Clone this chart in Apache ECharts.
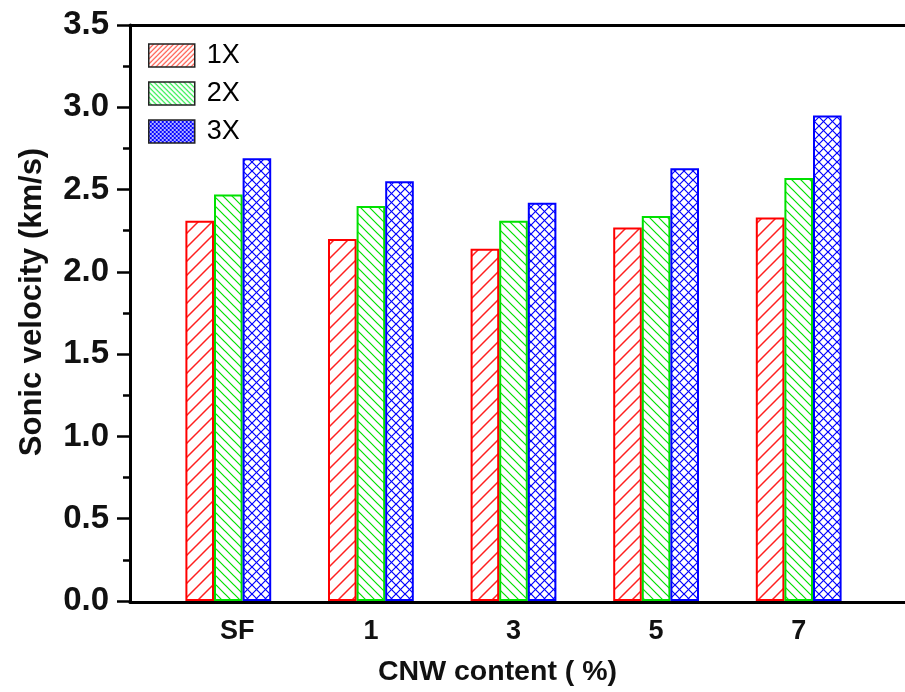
<!DOCTYPE html>
<html>
<head>
<meta charset="utf-8">
<script src="https://cdn.jsdelivr.net/npm/echarts@6/dist/echarts.min.js"></script>
<style>
  html, body { margin: 0; padding: 0; background: #fff; }
  #chart { width: 905px; height: 692px; }
</style>
</head>
<body>
<div id="chart"></div>
<script>
// Sonic velocity by CNW content, for 1, 2 and 3 cycles
const categories = ['SF', '1', '3', '5', '7'];
const seriesNames = ['1X', '2X', '3X'];
const velocity1X = [2.31, 2.20, 2.14, 2.27, 2.33];
const velocity2X = [2.47, 2.40, 2.31, 2.34, 2.57];
const velocity3X = [2.69, 2.55, 2.42, 2.63, 2.95];
const yTicks = [0, 0.5, 1.0, 1.5, 2.0, 2.5, 3.0, 3.5];

const FONT = "'Liberation Sans', Arial, sans-serif";

// Hatch fill tiles: 'fwd' = ////, 'back' = \\\\, 'cross' = crosshatch
function hatch(kind, color, period, lw) {
  const c = document.createElement('canvas');
  c.width = period; c.height = period;
  const g = c.getContext('2d');
  g.fillStyle = '#fff';
  g.fillRect(0, 0, period, period);
  g.strokeStyle = color;
  g.lineWidth = lw;
  const p = period;
  function fwd() {
    g.beginPath();
    g.moveTo(-1, p + 1); g.lineTo(p + 1, -1);
    g.moveTo(-1, 1); g.lineTo(1, -1);
    g.moveTo(p - 1, p + 1); g.lineTo(p + 1, p - 1);
    g.stroke();
  }
  function back() {
    g.beginPath();
    g.moveTo(-1, -1); g.lineTo(p + 1, p + 1);
    g.moveTo(p - 1, -1); g.lineTo(p + 1, 1);
    g.moveTo(-1, p - 1); g.lineTo(1, p + 1);
    g.stroke();
  }
  if (kind === 'fwd' || kind === 'cross') fwd();
  if (kind === 'back' || kind === 'cross') back();
  return { image: c, repeat: 'repeat' };
}

const colors = ['#ff0000', '#00e000', '#0000ff'];
const barFills = [
  hatch('fwd', '#ff2020', 14, 1.5),
  hatch('back', '#00e000', 9, 1.2),
  hatch('cross', '#0000ff', 9, 1.2)
];
const legendFills = [
  hatch('fwd', '#ff4a3a', 5, 1.2),
  hatch('back', '#22ee44', 5, 1.2),
  hatch('cross', '#0000ff', 4, 1.2)
];
const values = [velocity1X, velocity2X, velocity3X];

const chart = echarts.init(document.getElementById('chart'), null, { renderer: 'canvas' });

const option = {
  backgroundColor: '#fff',
  animation: false,
  grid: [
    { left: 157, right: 35, top: 25, bottom: 90 },
    { left: 130, right: 0, top: 25, bottom: 90 }
  ],
  legend: {
    left: 148, top: 42, padding: 0,
    orient: 'vertical',
    icon: 'rect',
    itemWidth: 46, itemHeight: 23, itemGap: 11,
    textStyle: {
      fontFamily: FONT, fontSize: 27, color: '#000',
      padding: [0, 0, 0, 7]
    },
    data: seriesNames.map((n, i) => ({
      name: n,
      itemStyle: { color: legendFills[i], borderColor: '#222', borderWidth: 1.5 }
    }))
  },
  xAxis: [
    {
      type: 'category', gridIndex: 0,
      data: categories.map(c => c === 'SF'
        ? { value: c, textStyle: { padding: [0, 0, 0, 18] } }
        : c),
      axisLine: { show: false },
      axisTick: { show: false },
      axisLabel: {
        fontFamily: FONT, fontSize: 27, fontWeight: 'bold', color: '#111', margin: 17
      },
      name: 'CNW content ( %)',
      nameLocation: 'middle', nameGap: 57,
      nameTextStyle: {
        fontFamily: FONT, fontSize: 28.5, fontWeight: 'bold', color: '#111',
        padding: [0, 32, 0, 0]
      }
    },
    {
      type: 'value', gridIndex: 1, position: 'bottom', min: 0, max: 1,
      axisLine: { show: true, lineStyle: { color: '#000', width: 3 } },
      axisTick: { show: false }, axisLabel: { show: false }, splitLine: { show: false }
    },
    {
      type: 'value', gridIndex: 1, position: 'top', min: 0, max: 1,
      axisLine: { show: true, lineStyle: { color: '#000', width: 3 } },
      axisTick: { show: false }, axisLabel: { show: false }, splitLine: { show: false }
    }
  ],
  yAxis: [
    {
      type: 'value', gridIndex: 0,
      min: yTicks[0], max: yTicks[yTicks.length - 1], interval: 0.5,
      offset: 27,
      axisLine: { show: true, lineStyle: { color: '#000', width: 3 } },
      axisTick: { show: true, inside: false, length: 13, lineStyle: { color: '#000', width: 2.5 } },
      minorTick: { show: true, splitNumber: 2, length: 7, lineStyle: { color: '#000', width: 2.5 } },
      splitLine: { show: false },
      axisLabel: {
        fontFamily: FONT, fontSize: 33, fontWeight: 'bold', color: '#111', margin: 21,
        formatter: v => v.toFixed(1)
      },
      name: 'Sonic velocity (km/s)',
      nameLocation: 'middle', nameGap: 82, nameRotate: 90,
      nameTextStyle: {
        fontFamily: FONT, fontSize: 31, fontWeight: 'bold', color: '#111',
        padding: [0, 0, 0, 22]
      }
    },
    {
      type: 'value', gridIndex: 1, min: 0, max: 1, show: false
    }
  ],
  series: seriesNames.map((n, i) => ({
    name: n,
    type: 'bar',
    xAxisIndex: 0, yAxisIndex: 0,
    barWidth: 28.6,
    barGap: '0%',
    data: values[i],
    itemStyle: { color: barFills[i], borderColor: colors[i], borderWidth: 2 },
    emphasis: { disabled: true }
  }))
};

chart.setOption(option);
</script>
</body>
</html>
